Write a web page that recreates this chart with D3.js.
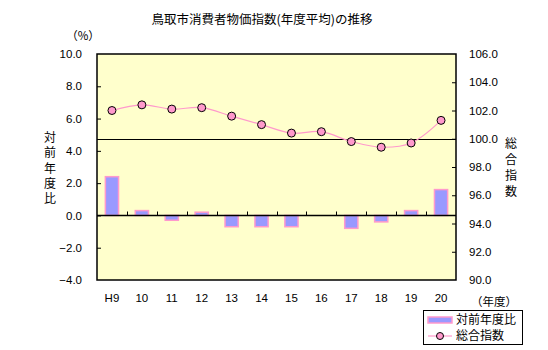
<!DOCTYPE html>
<html><head><meta charset="utf-8">
<script src="https://cdn.jsdelivr.net/npm/d3@7"></script>
<style>body{margin:0;background:#fff}svg{display:block}</style>
</head><body>
<script>
const categories = ["H9","10","11","12","13","14","15","16","17","18","19","20"];
const yoyValues = [2.4,0.3,-0.3,0.2,-0.7,-0.7,-0.7,0.0,-0.8,-0.4,0.3,1.6];
const indexValues = [102.0,102.4,102.1,102.2,101.6,101.0,100.4,100.5,99.8,99.4,99.7,101.3];
const leftTicks = [10,8,6,4,2,0,-2,-4];
const rightTicks = [106,104,102,100,98,96,94,92,90];
const title = "鳥取市消費者物価指数(年度平均)の推移";
const leftTitle = "対前年度比";
const rightTitle = "総合指数";
const legendLabels = ["対前年度比","総合指数"];

const W=548,H=350;
const m={l:97,t:54,r:456,b:280};
const jp='"Noto Sans CJK JP","Noto Sans",sans-serif';
const num='"Liberation Sans",Arial,sans-serif';
const svg=d3.select("body").append("svg").attr("width",W).attr("height",H);

const x=d3.scaleBand().domain(categories).range([m.l,m.r]);
const yL=d3.scaleLinear().domain([-4,10]).range([m.b,m.t]);
const yR=d3.scaleLinear().domain([90,106]).range([m.b,m.t]);

svg.append("rect").attr("x",m.l).attr("y",m.t).attr("width",m.r-m.l).attr("height",m.b-m.t)
  .attr("fill","#FFFFCC");

// reference line at 100
svg.append("line").attr("x1",m.l).attr("x2",m.r).attr("y1",Math.round(yR(100))+0.5).attr("y2",Math.round(yR(100))+0.5)
  .attr("stroke","#000").attr("stroke-width",1);

// bars
const bw=x.bandwidth()*0.44;
svg.append("g").selectAll("rect").data(yoyValues.map((v,i)=>({v,c:categories[i]})).filter(d=>d.v!==0))
  .join("rect")
  .attr("x",d=>x(d.c)+x.bandwidth()/2-bw/2)
  .attr("y",d=>yL(Math.max(0,d.v)))
  .attr("width",bw)
  .attr("height",d=>Math.abs(yL(d.v)-yL(0)))
  .attr("fill","#9999FF").attr("stroke","#FF99CC").attr("stroke-width",1.5);

// zero axis
const z=Math.round(yL(0))+0.5;
svg.append("line").attr("x1",m.l).attr("x2",m.r).attr("y1",z).attr("y2",z).attr("stroke","#000").attr("stroke-width",1.5);
svg.append("g").selectAll("line").data(categories.slice(1)).join("line")
  .attr("x1",d=>Math.round(x(d))+0.5).attr("x2",d=>Math.round(x(d))+0.5)
  .attr("y1",z).attr("y2",z-4).attr("stroke","#000");

// plot frame
svg.append("rect").attr("x",m.l).attr("y",m.t).attr("width",m.r-m.l).attr("height",m.b-m.t)
  .attr("fill","none").attr("stroke","#000").attr("stroke-width",1.5);

// left axis
const gl=svg.append("g").attr("transform",`translate(${m.l},0)`)
  .call(d3.axisLeft(yL).tickValues(leftTicks).tickSize(-4).tickPadding(15).tickFormat(d3.format(".1f")));
gl.select(".domain").remove();
gl.selectAll("text").attr("font-family",num).attr("font-size","11.5px").attr("fill","#000");
gl.selectAll(".tick line").filter(d=>d===10||d===-4).remove();

const gr=svg.append("g").attr("transform",`translate(${m.r},0)`)
  .call(d3.axisRight(yR).tickValues(rightTicks).tickSize(-4).tickPadding(13).tickFormat(d3.format(".1f")));
gr.select(".domain").remove();
gr.selectAll("text").attr("font-family",num).attr("font-size","11.5px").attr("fill","#000");
gr.selectAll(".tick line").filter(d=>d===106||d===90).remove();

// category labels
svg.append("g").selectAll("text").data(categories).join("text")
  .attr("x",d=>x(d)+x.bandwidth()/2).attr("y",302).attr("text-anchor","middle")
  .attr("font-family",num).attr("font-size","11.5px").text(d=>d);

// line
const pts=indexValues.map((v,i)=>[x(categories[i])+x.bandwidth()/2,yR(v)]);
svg.append("path").attr("d",d3.line().curve(d3.curveCatmullRom.alpha(0.5))(pts))
  .attr("fill","none").attr("stroke","#FF99CC").attr("stroke-width",1.2);
svg.append("g").selectAll("circle").data(pts).join("circle")
  .attr("cx",d=>d[0]).attr("cy",d=>d[1]).attr("r",4)
  .attr("fill","#FF99CC").attr("stroke","#000").attr("stroke-width",1);

// titles
svg.append("text").attr("x",262).attr("y",24).attr("text-anchor","middle")
  .attr("font-family",jp).attr("font-size","12.5px").text(title);
svg.append("text").attr("x",83).attr("y",40).attr("text-anchor","middle")
  .attr("font-family",jp).attr("font-size","11.5px").text("（%）");
svg.append("text").attr("x",494).attr("y",306).attr("text-anchor","middle")
  .attr("font-family",jp).attr("font-size","11.5px").text("（年度）");
svg.append("text").attr("x",50).attr("y",131.5)
  .style("writing-mode","vertical-rl").style("text-orientation","upright")
  .attr("letter-spacing","3.3px")
  .attr("font-family",jp).attr("font-size","12px").text(leftTitle);
svg.append("text").attr("x",511).attr("y",137)
  .style("writing-mode","vertical-rl").style("text-orientation","upright")
  .attr("letter-spacing","4px")
  .attr("font-family",jp).attr("font-size","12px").text(rightTitle);

// legend
const lg=svg.append("g");
lg.append("rect").attr("x",423.5).attr("y",310.5).attr("width",99).attr("height",34)
  .attr("fill","#fff").attr("stroke","#000");
lg.append("rect").attr("x",428).attr("y",317).attr("width",24).attr("height",6)
  .attr("fill","#9999FF").attr("stroke","#FF99CC").attr("stroke-width",1.5);
lg.append("line").attr("x1",428).attr("x2",452).attr("y1",336).attr("y2",336).attr("stroke","#FF99CC").attr("stroke-width",1.2);
lg.append("circle").attr("cx",440).attr("cy",336).attr("r",3.5).attr("fill","#FF99CC").attr("stroke","#000");
legendLabels.forEach((t,i)=>{
  lg.append("text").attr("x",456).attr("y",324+i*16).attr("font-family",jp).attr("font-size","12px").text(t);
});
</script>
</body></html>
